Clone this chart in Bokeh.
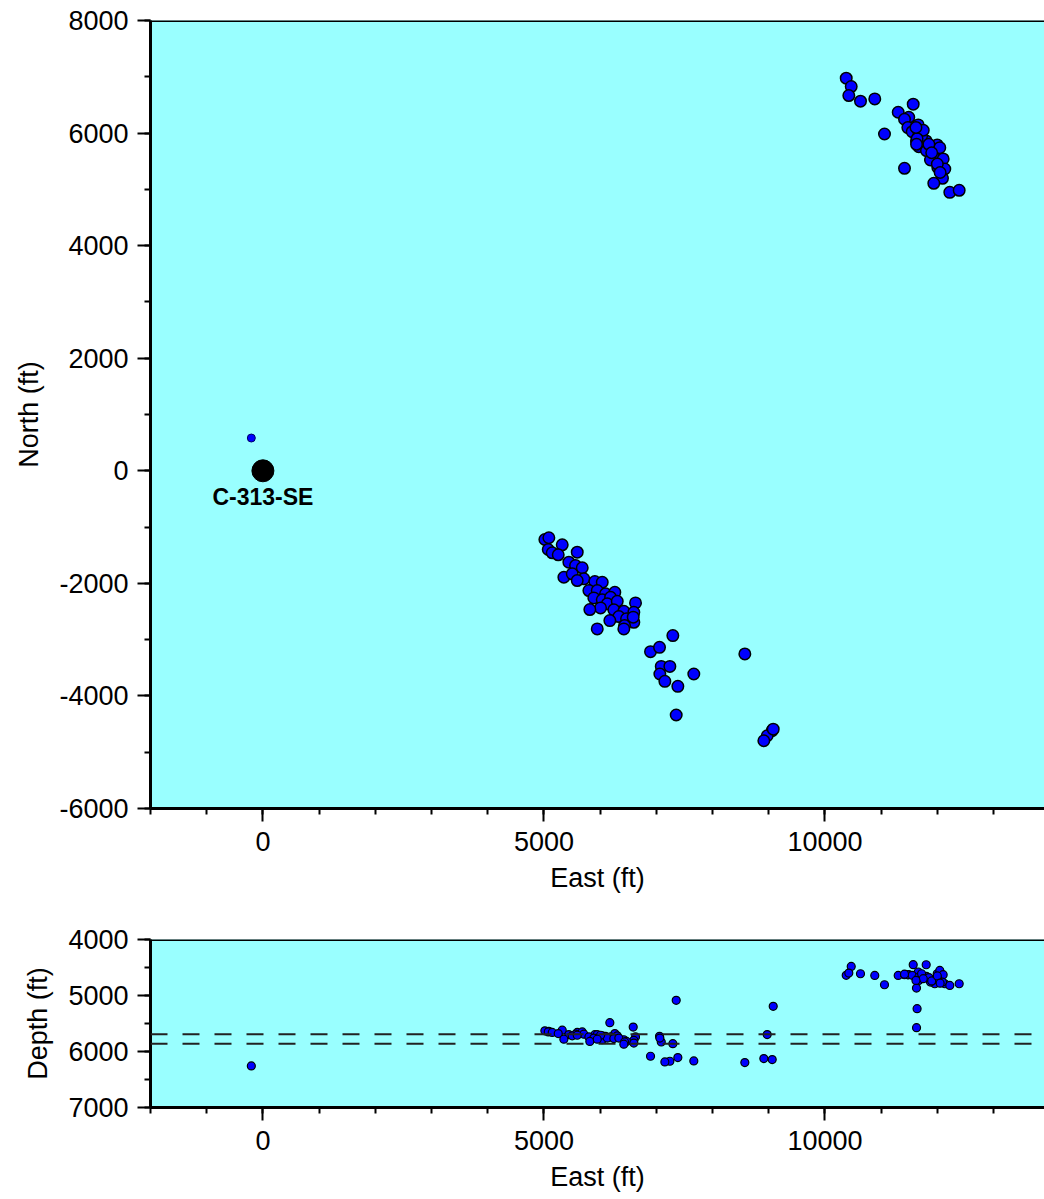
from bokeh.plotting import figure
from bokeh.models import (Range1d, SingleIntervalTicker, PrintfTickFormatter,
                          Span, ColumnDataSource)
from bokeh.layouts import column
from bokeh.embed import file_html
from bokeh.resources import INLINE
from bokeh.core.properties import value

# ---------------- data ----------------
# microseismic event locations (ft)
east = [
    10379, 10468, 10425, 10633, 10887, 11571, 11304, 11492, 11416, 11660,
    11475, 11060, 11553, 11670, 11629, 11802, 11670, 11807, 11998, 12044,
    11955, 12104, 11878, 12008, 12133, 11416, 12092, 11937, 12222, 12389,
    11720, 11850, 11900, 12000, 11750, 12050, 11640, 11630, 11620,
    5017, 5088, 5077, 5148, 5326, 5255, 5593, 5444, 5563, 5682,
    5355, 5504, 5711, 5593, 5906, 6038, 5800, 5949, 6097, 6262,
    5888, 6038, 6186, 6127, 6305, 6630, 6008, 6244, 5817, 6422,
    6600, 6333, 6470, 6173, 6600, 6435, 5949, 6422, 6589,
    7294, 6897, 7057, 8575, 7088, 7241, 7063, 7667, 7152, 7383,
    7354, 9062, 8973, 8913, 9080,
]
north = [
    6975, 6826, 6666, 6566, 6607, 6513, 6370, 6281, 6246, 6145,
    6097, 5984, 6025, 6025, 5860, 5860, 5758, 5687, 5789, 5741,
    5552, 5540, 5522, 5392, 5362, 5374, 5196, 5107, 4947, 4983,
    5950, 5800, 5650, 5450, 6050, 5300, 5900, 5800, 6100,
    -1221, -1190, -1398, -1457, -1315, -1493, -1446, -1624, -1683, -1724,
    -1891, -1831, -1920, -1950, -1968, -1980, -2128, -2128, -2186, -2158,
    -2258, -2293, -2247, -2364, -2318, -2347, -2436, -2471, -2466, -2496,
    -2514, -2590, -2631, -2662, -2692, -2750, -2809, -2809, -2600,
    -2928, -3213, -3137, -3254, -3475, -3475, -3610, -3610, -3741, -3830,
    -4339, -4618, -4707, -4796, -4590,
]
depth = [
    4640, 4480, 4600, 4612, 4642, 4450, 4642, 4629, 4629, 4580,
    4630, 4808, 4640, 4672, 4868, 4451, 4731, 4659, 4612, 4552,
    4790, 4629, 4761, 4700, 4790, 4620, 4760, 4720, 4820, 4790,
    4612, 4680, 4740, 4650, 4700, 4780, 5235, 5574, 4730,
    5630, 5640, 5650, 5660, 5620, 5680, 5660, 5700, 5690, 5650,
    5780, 5720, 5690, 5710, 5700, 5720, 5740, 5700, 5730, 5680,
    5760, 5790, 5740, 5760, 5720, 5740, 5710, 5770, 5820, 5790,
    5800, 5760, 5820, 5485, 5850, 5830, 5780, 5870, 5563,
    5860, 6085, 5729, 6197, 5830, 6174, 5760, 6169, 6186, 6108,
    5087, 6144, 5698, 6126, 5194,
]

# isolated event near the well
lone_east = [-206]
lone_north = [582]
lone_depth = [6258]

# well
well_east = [0]
well_north = [0]
well_name = ["C-313-SE"]

# target zone (ft depth)
zone_depths = [5690, 5860]

x_limits = [-2000, 13907]
north_limits = [-6000, 8000]
depth_limits = [7000, 4000]

FONT = "Liberation Sans"
BG = "#99FFFF"
PT_FILL = "#0000FF"

events = ColumnDataSource(dict(east=east, north=north, depth=depth))
lone = ColumnDataSource(dict(east=lone_east, north=lone_north, depth=lone_depth))
well = ColumnDataSource(dict(east=well_east, north=well_north, name=well_name))

x_range = Range1d(*x_limits)


def style(p, xlab, ylab, yinterval, top_value):
    p.background_fill_color = BG
    p.border_fill_color = "white"
    p.outline_line_color = None
    p.grid.visible = False
    p.xaxis.ticker = SingleIntervalTicker(interval=5000, num_minor_ticks=5)
    p.yaxis.ticker = SingleIntervalTicker(interval=yinterval, num_minor_ticks=2)
    for ax in (p.xaxis[0], p.yaxis[0]):
        ax.formatter = PrintfTickFormatter(format="%d")
        ax.axis_line_color = "black"
        ax.axis_line_width = 3
        ax.major_tick_line_color = "black"
        ax.major_tick_line_width = 2
        ax.major_tick_out = 13
        ax.major_tick_in = 0
        ax.minor_tick_line_color = "black"
        ax.minor_tick_line_width = 2
        ax.minor_tick_out = 6
        ax.minor_tick_in = 0
        ax.major_label_text_font = FONT
        ax.major_label_text_font_size = "27px"
        ax.major_label_text_color = "black"
        ax.axis_label_text_font = FONT
        ax.axis_label_text_font_size = "27px"
        ax.axis_label_text_font_style = "normal"
        ax.axis_label_text_color = "black"
    p.xaxis.axis_label = xlab
    p.yaxis.axis_label = ylab
    p.xaxis.major_label_standoff = 10
    p.xaxis.axis_label_standoff = 9
    p.yaxis.major_label_standoff = 9
    p.yaxis.axis_label_standoff = 12
    p.add_layout(Span(location=top_value, dimension="width",
                      line_color="black", line_width=3))


# ---------------- plan view ----------------
p1 = figure(width=1044, height=910, x_range=x_range,
            y_range=Range1d(*north_limits),
            output_backend="svg", toolbar_location=None,
            min_border_left=150, min_border_right=0,
            min_border_top=20, min_border_bottom=102)
style(p1, "East (ft)", "North (ft)", 2000, north_limits[1])

p1.scatter("east", "north", source=events, size=11.5, marker="circle",
           fill_color=PT_FILL, line_color="black", line_width=1.5)
p1.scatter("east", "north", source=lone, size=8, marker="circle",
           fill_color=PT_FILL, line_color="#000066", line_width=1)
p1.scatter("east", "north", source=well, size=22, marker="circle",
           fill_color="black", line_color="black")
p1.text("east", "north", text="name", source=well,
        text_font=value(FONT), text_font_size="23px", text_font_style="bold",
        text_align="center", text_baseline="top", y_offset=13,
        text_color="black")

# ---------------- depth section ----------------
p2 = figure(width=1044, height=287, x_range=x_range,
            y_range=Range1d(*depth_limits),
            output_backend="svg", toolbar_location=None,
            min_border_left=150, min_border_right=0,
            min_border_top=29, min_border_bottom=90)
style(p2, "East (ft)", "Depth (ft)", 1000, depth_limits[1])

for d in zone_depths:
    p2.add_layout(Span(location=d, dimension="width", line_color="#222222",
                       line_width=2, line_dash="17 15"))

p2.scatter("east", "depth", source=events, size=8, marker="circle",
           fill_color=PT_FILL, line_color="black", line_width=1.2)
p2.scatter("east", "depth", source=lone, size=8, marker="circle",
           fill_color=PT_FILL, line_color="black", line_width=1.2)

layout = column(p1, p2, spacing=0)
open("out.html", "w").write(file_html(layout, INLINE))
